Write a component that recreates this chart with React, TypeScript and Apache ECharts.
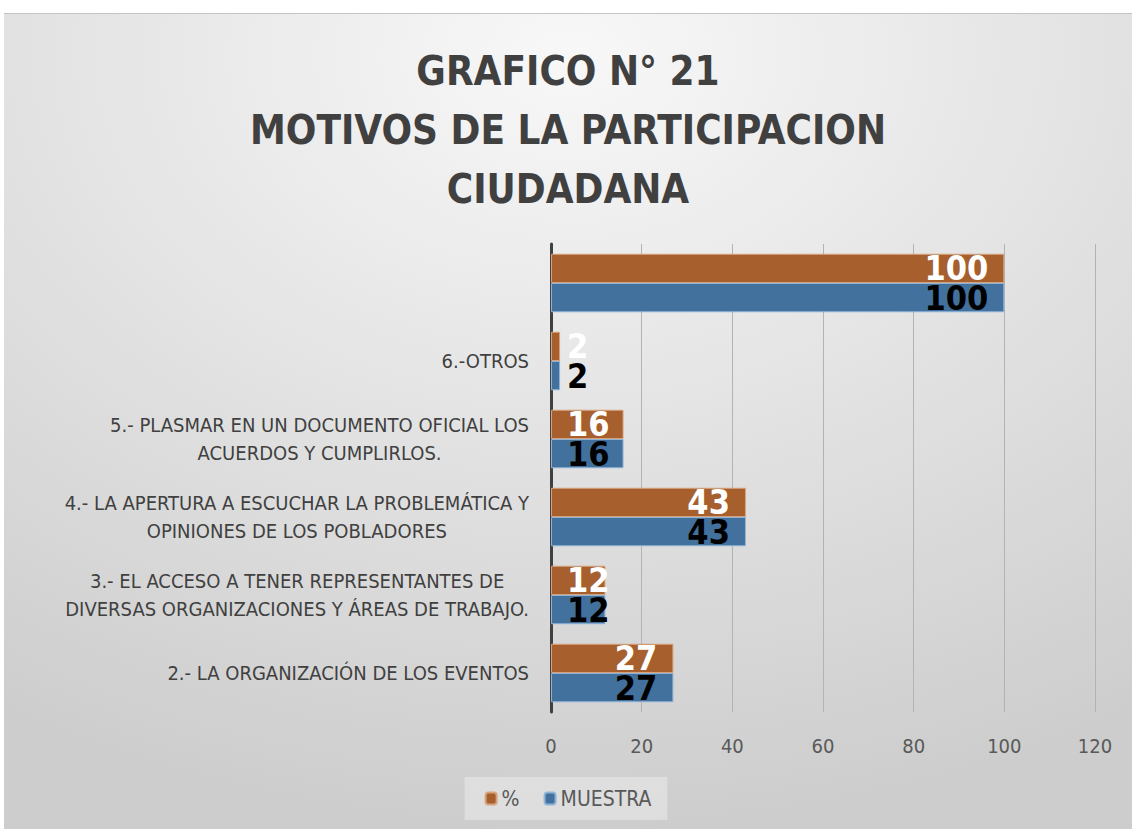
import React, { useEffect, useRef } from "react";
import * as echarts from "echarts";

const categories = [
  "2.- LA ORGANIZACIÓN DE LOS EVENTOS",
  "3.- EL ACCESO A TENER REPRESENTANTES DE\nDIVERSAS ORGANIZACIONES Y ÁREAS DE TRABAJO.",
  "4.- LA APERTURA A ESCUCHAR LA PROBLEMÁTICA Y\nOPINIONES DE LOS POBLADORES",
  "5.- PLASMAR EN UN DOCUMENTO OFICIAL LOS\nACUERDOS Y CUMPLIRLOS.",
  "6.-OTROS",
  "",
];
const pctValues = [27, 12, 43, 16, 2, 100];
const muestraValues = [27, 12, 43, 16, 2, 100];
const seriesNames = ["%", "MUESTRA"];
const titleText = "GRAFICO N° 21\nMOTIVOS DE LA PARTICIPACION\nCIUDADANA";

const FONT = "'DejaVu Sans Condensed', 'Open Sans', sans-serif";

export default function App() {
  const ref = useRef<HTMLDivElement>(null);
  useEffect(() => {
    document.body.style.margin = "0";
    if (!ref.current) return;
    const chart = echarts.init(ref.current, null, { renderer: "svg" });
    const mkData = (vals: number[]) =>
      vals.map((v) => ({
        value: v,
        label: v < 20 ? { position: "insideLeft", distance: 16 } : undefined,
      }));
    const labelStyle = (color: string) => ({
      show: true,
      position: "insideRight",
      distance: 16,
      color,
      fontFamily: FONT,
      fontSize: 34,
      lineHeight: 27,
      fontWeight: "bold",
    });
    chart.setOption({
      animation: false,
      backgroundColor: {
        type: "radial",
        x: 0.5,
        y: 0.05,
        r: 0.95,
        colorStops: [
          { offset: 0, color: "#f8f8f8" },
          { offset: 1, color: "#cdcdcd" },
        ],
      },
      textStyle: { fontFamily: FONT },
      title: {
        text: titleText,
        left: "center",
        top: 22,
        textStyle: {
          fontFamily: FONT,
          fontSize: 40,
          fontWeight: "bold",
          color: "#404040",
          lineHeight: 59,
        },
      },
      legend: {
        data: seriesNames,
        bottom: 9,
        left: "center",
        itemWidth: 11,
        itemHeight: 12,
        itemGap: 24,
        padding: [11, 16, 11, 20],
        backgroundColor: "rgba(235,235,235,0.55)",
        textStyle: { fontFamily: FONT, fontSize: 21, color: "#595959" },
      },
      grid: { left: 547, right: 37, top: 230, bottom: 117 },
      xAxis: {
        type: "value",
        min: 0,
        max: 120,
        interval: 20,
        axisLine: { show: false },
        axisTick: { show: false },
        splitLine: { show: true, lineStyle: { color: "#b3b3b3", width: 1 } },
        axisLabel: {
          margin: 24,
          fontFamily: FONT,
          fontSize: 20,
          color: "#595959",
        },
      },
      yAxis: {
        type: "category",
        data: categories,
        axisLine: { show: true, lineStyle: { color: "#404040", width: 3 } },
        axisTick: { show: false },
        axisLabel: {
          margin: 22,
          fontFamily: FONT,
          fontSize: 20,
          color: "#404040",
          lineHeight: 28,
          formatter: (val: string) =>
            val
              .split("\n")
              .map((l) => `{c|${l}}`)
              .join("\n"),
          rich: {
            c: {
              align: "center",
              fontFamily: FONT,
              fontSize: 20,
              color: "#404040",
              lineHeight: 28,
            },
          },
        },
      },
      series: [
        {
          name: "%",
          type: "bar",
          data: mkData(pctValues),
          barGap: "0%",
          barCategoryGap: "25%",
          itemStyle: { color: "#a65f2d", borderColor: "#d6a27c", borderWidth: 1 },
          label: labelStyle("#ffffff"),
        },
        {
          name: "MUESTRA",
          type: "bar",
          data: mkData(muestraValues),
          barGap: "0%",
          barCategoryGap: "25%",
          itemStyle: { color: "#41719c", borderColor: "#8fb3d6", borderWidth: 1 },
          label: labelStyle("#000000"),
        },
      ],
    });
    return () => chart.dispose();
  }, []);
  return (
    <div style={{ paddingTop: 13, paddingLeft: 4, background: "#ffffff" }}>
      <div
        ref={ref}
        style={{ width: 1128, height: 816, borderTop: "1px solid #c4c4c4", boxSizing: "border-box" }}
      />
    </div>
  );
}
